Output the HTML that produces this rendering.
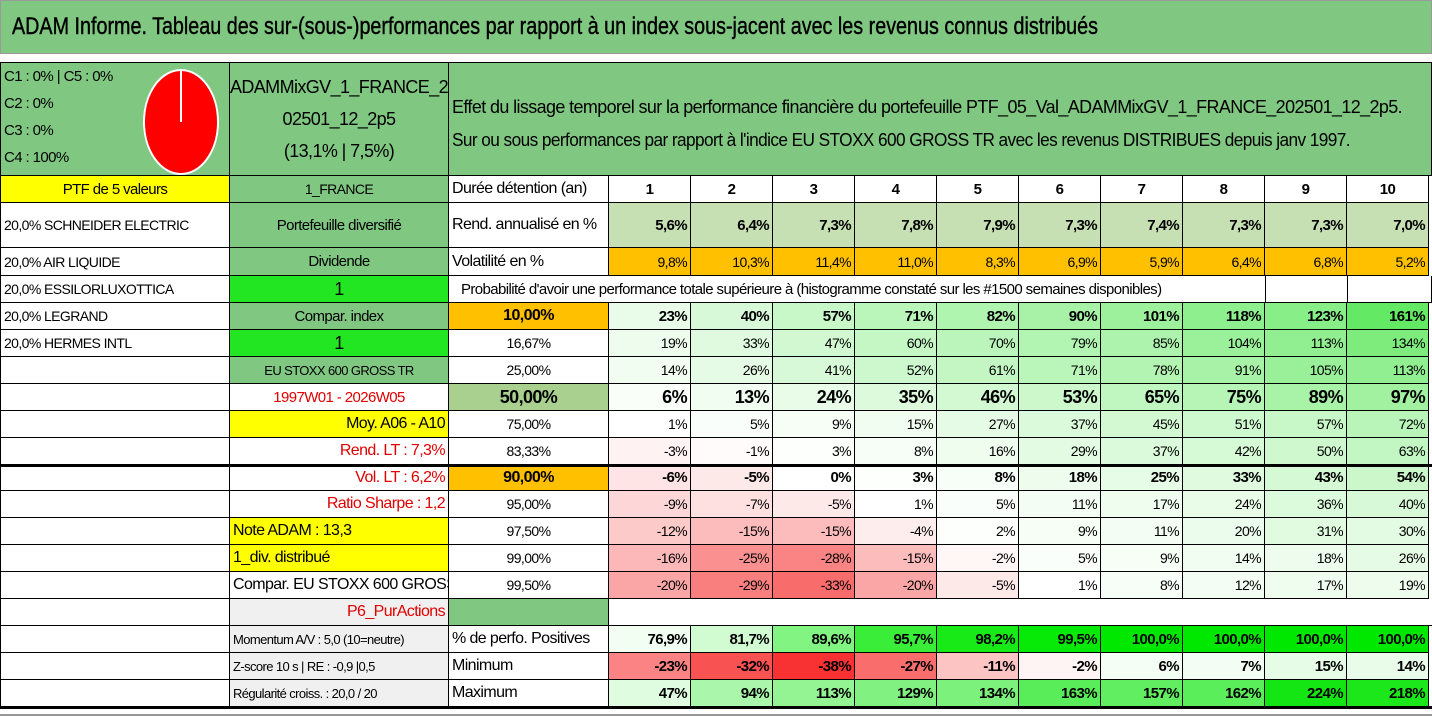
<!DOCTYPE html>
<html><head><meta charset="utf-8">
<style>
*{box-sizing:border-box;margin:0;padding:0}
body{width:1432px;height:717px;background:#fff;position:relative;overflow:hidden;font-family:"Liberation Sans",sans-serif;color:#000}
.c{position:absolute;border-right:1px solid #000;border-bottom:1px solid #000;display:flex;align-items:center;white-space:nowrap;overflow:hidden;font-size:13px;letter-spacing:-0.6px;padding:0 3px}
.l{justify-content:flex-start}.m{justify-content:center}.r{justify-content:flex-end}
.g{background:#80c882}.y{background:#ffff00}.bg{background:#22e622}.o{background:#ffc000}.gr{background:#f0f0f0}
.red{color:#e00000}
.fit{display:inline-block;transform-origin:left center}
</style></head><body>
<div style="position:absolute;left:0;top:0;width:1432px;height:54px;background:#80c882;border:1px solid #999;"></div>
<div style="position:absolute;left:12px;top:13px;font-size:24px;white-space:nowrap;-webkit-text-stroke:0.4px #000;"><span class="fit" data-w="1086">ADAM Informe. Tableau des sur-(sous-)performances par rapport à un index sous-jacent avec les revenus connus distribués</span></div>
<div id="grid"></div>
<div style="position:absolute;left:0;top:714px;width:1432px;height:2px;background:#999"></div>
<script>
const durations=["1","2","3","4","5","6","7","8","9","10"];
const rendAnn=["5,6%","6,4%","7,3%","7,8%","7,9%","7,3%","7,4%","7,3%","7,3%","7,0%"];
const volat=["9,8%","10,3%","11,4%","11,0%","8,3%","6,9%","5,9%","6,4%","6,8%","5,2%"];
const percentiles=["10,00%","16,67%","25,00%","50,00%","75,00%","83,33%","90,00%","95,00%","97,50%","99,00%","99,50%"];
const p10=[23,40,57,71,82,90,101,118,123,161];
const p16=[19,33,47,60,70,79,85,104,113,134];
const p25=[14,26,41,52,61,71,78,91,105,113];
const p50=[6,13,24,35,46,53,65,75,89,97];
const p75=[1,5,9,15,27,37,45,51,57,72];
const p83=[-3,-1,3,8,16,29,37,42,50,63];
const p90=[-6,-5,0,3,8,18,25,33,43,54];
const p95=[-9,-7,-5,1,5,11,17,24,36,40];
const p97=[-12,-15,-15,-4,2,9,11,20,31,30];
const p99=[-16,-25,-28,-15,-2,5,9,14,18,26];
const p995=[-20,-29,-33,-20,-5,1,8,12,17,19];
const pctPos=[76.9,81.7,89.6,95.7,98.2,99.5,100,100,100,100];
const minimum=[-23,-32,-38,-27,-11,-2,6,7,15,14];
const maximum=[47,94,113,129,134,163,157,162,224,218];

const ys=[62,176,203,248,276,303,330,357,384,411,438,465,491,518,545,572,599,626,653,680,707];
const grid=document.getElementById('grid');
function colX(i){return 609+82*i;}
function mix(a,t){t=Math.max(0,Math.min(1,t));return 'rgb('+a.map(v=>Math.round(255+(v-255)*t)).join(',')+')';}
function cell(x,y,w,h,txt,cls,name,extra){
  const d=document.createElement('div');
  d.className='c '+(cls||'');
  d.style.left=x+'px';d.style.top=y+'px';d.style.width=w+'px';d.style.height=h+'px';
  if(extra)Object.assign(d.style,extra);
  d.textContent=txt;
  
  
  grid.appendChild(d);return d;
}
function row(r){return [ys[r],ys[r+1]-ys[r]];}
let [y0,h0]=row(0);
const hA=cell(0,y0,230,h0,'','g','allocation-cell',{borderTop:'1px solid #000',borderLeft:'1px solid #000',alignItems:'flex-start'});
hA.innerHTML='<div style="font-size:15px;line-height:27px;padding-top:0">C1 : 0% | C5 : 0%<br>C2 : 0%<br>C3 : 0%<br>C4 : 100%</div><svg style="position:absolute;left:141px;top:5px" width="78" height="108"><ellipse cx="39" cy="54" rx="37" ry="52" fill="#ff0000" stroke="#fff" stroke-width="2"/><line x1="39" y1="54" x2="39" y2="3" stroke="#fff" stroke-width="2"/></svg>';
const hB=cell(230,y0,219,h0,'','g m','portfolio-name',{borderTop:'1px solid #000',flexDirection:'column',fontSize:'18px',lineHeight:'32px'});
hB.innerHTML='<div>ADAMMixGV_1_FRANCE_2</div><div>02501_12_2p5</div><div>(13,1% | 7,5%)</div>';
const hC=cell(449,y0,983,h0,'','g l','description',{borderTop:'1px solid #000',flexDirection:'column',alignItems:'flex-start',justifyContent:'center',fontSize:'18px',lineHeight:'33px',paddingTop:'10px'});
hC.innerHTML='<span class="fit" data-w="950">Effet du lissage temporel sur la performance financière du portefeuille PTF_05_Val_ADAMMixGV_1_FRANCE_202501_12_2p5.</span><span class="fit" data-w="898">Sur ou sous performances par rapport à l\'indice EU STOXX 600 GROSS TR avec les revenus DISTRIBUES depuis janv 1997.</span>';
const colA=[["PTF de 5 valeurs","y m","ptf-label"],["20,0% SCHNEIDER ELECTRIC","l","holding-schneider"],["20,0% AIR LIQUIDE","l","holding-air-liquide"],["20,0% ESSILORLUXOTTICA","l","holding-essilor"],["20,0% LEGRAND","l","holding-legrand"],["20,0% HERMES INTL","l","holding-hermes"]];
for(let r=1;r<=19;r++){const [y,h]=row(r);const a=colA[r-1];cell(0,y,230,h,a?a[0]:'',a?a[1]:'',a?a[2]:'blank-cell',{borderLeft:'1px solid #000',fontSize:r==1?'15px':'14px'});}
const colB=[["1_FRANCE","g m","market-label",{fontSize:'14px'}],["Portefeuille diversifié","g m","portfolio-type"],["Dividende","g m","dividend-label"],["1","bg m","dividend-value",{fontSize:'18px'}],["Compar. index","g m","compare-index-label"],["1","bg m","compare-index-value",{fontSize:'18px'}],["EU STOXX 600 GROSS TR","g m","index-name",{fontSize:'13px'}],["1997W01 - 2026W05","m red","period-label"],["Moy. A06 - A10","y r","average-label",{fontSize:'16px'}],["Rend. LT : 7,3%","r red","long-term-return",{fontSize:'16px'}],["Vol. LT : 6,2%","r red","long-term-volatility",{fontSize:'16px'}],["Ratio Sharpe : 1,2","r red","sharpe-ratio",{fontSize:'16px'}],["Note ADAM : 13,3","y l","adam-score",{fontSize:'16px'}],["1_div. distribué","y l","dividend-distributed",{fontSize:'16px'}],["Compar. EU STOXX 600 GROSS TR","l","comparison-label",{fontSize:'16px'}],["P6_PurActions","gr r red","profile-label",{fontSize:'16px'}],["Momentum A/V : 5,0 (10=neutre)","gr l","momentum",{fontSize:'13px'}],["Z-score 10 s | RE : -0,9 |0,5","gr l","z-score",{fontSize:'13px'}],["Régularité croiss. : 20,0 / 20","gr l","regularity",{fontSize:'13px'}]];
for(let r=1;r<=19;r++){const [y,h]=row(r);const b=colB[r-1];cell(230,y,219,h,b[0],b[1],b[2],Object.assign({fontSize:'15px'},b[3]||{}));}
const labC={1:"Durée détention (an)",2:"Rend. annualisé en %",3:"Volatilité en %",17:"% de perfo. Positives",18:"Minimum",19:"Maximum"};
for(const r of [1,2,3,17,18,19]){const [y,h]=row(r);cell(449,y,160,h,labC[r],'l','row-label',{fontSize:'16px'});}
{const [y,h]=row(4);cell(449,y,817,h,"Probabilité d'avoir une performance totale supérieure à (histogramme constaté sur les #1500 semaines disponibles)",'l','probability-caption',{fontSize:'15px',paddingLeft:'12px'});cell(1266,y,82,h,'','','blank-cell');cell(1348,y,84,h,'','','blank-cell');}
{const [y,h]=row(16);cell(449,y,160,h,'','g','profile-color',{});cell(609,y,823,h,'','','blank-row',{borderRight:'none',borderBottom:'1px solid #000'});}
const pRows=[p10,p16,p25,p50,p75,p83,p90,p95,p97,p99,p995];
const pNames=['p10','p16','p25','p50','p75','p83','p90','p95','p97','p99','p995'];
for(let k=0;k<11;k++){
  const r=5+k;const [y,h]=row(r);
  const bold=(k==0||k==3||k==6);
  const bgc=k==0||k==6?'o':'';
  const ex={fontSize:k==3?'18px':(bold?'16px':'14px'),fontWeight:bold?'bold':'normal'};
  if(k==3)ex.background='#a9d08e';
  cell(449,y,160,h,percentiles[k],'m '+bgc,'percentile-'+pNames[k],ex);
  pRows[k].forEach((v,i)=>{
    const bg=v>=0?mix([95,232,95],v/165):mix([248,95,95],-v/36);
    cell(colX(i),y,82,h,v+'%','r','cell-'+pNames[k]+'-y'+durations[i],{background:bg,fontWeight:bold?'bold':'normal',fontSize:k==3?'18px':(bold?'15px':'14px')});
  });
}
{const [y,h]=row(1);durations.forEach((d,i)=>cell(colX(i),y,82,h,d,'m','duration-'+d,{fontWeight:'bold',fontSize:'15px'}));}
{const [y,h]=row(2);rendAnn.forEach((d,i)=>cell(colX(i),y,82,h,d,'r','return-y'+durations[i],{fontWeight:'bold',fontSize:'15px',background:'#c6e0b4'}));}
{const [y,h]=row(3);volat.forEach((d,i)=>cell(colX(i),y,82,h,d,'r o','volatility-y'+durations[i],{fontSize:'14px'}));}
{const [y,h]=row(17);pctPos.forEach((v,i)=>cell(colX(i),y,82,h,v.toFixed(1).replace('.',',')+'%','r','positive-y'+durations[i],{fontWeight:'bold',fontSize:'15px',background:mix([0,232,0],Math.pow((v-74)/26,1.4))}));}
{const [y,h]=row(18);minimum.forEach((v,i)=>cell(colX(i),y,82,h,v+'%','r','minimum-y'+durations[i],{fontWeight:'bold',fontSize:'15px',background:v>=0?mix([95,232,95],v/100):mix([248,50,50],-v/38)}));}
{const [y,h]=row(19);maximum.forEach((v,i)=>cell(colX(i),y,82,h,v+'%','r','maximum-y'+durations[i],{fontWeight:'bold',fontSize:'15px',background:mix([20,230,20],(v-20)/204)}));}
for(const yy of [464,706]){const d=document.createElement('div');d.style.cssText='position:absolute;left:0;width:1432px;height:3px;background:#000;top:'+yy+'px';


grid.appendChild(d);}
document.querySelectorAll('.fit').forEach(s=>{const w=+s.dataset.w;const cw=s.getBoundingClientRect().width;if(cw>0)s.style.transform='scaleX('+(w/cw)+')';});
</script>
</body></html>
